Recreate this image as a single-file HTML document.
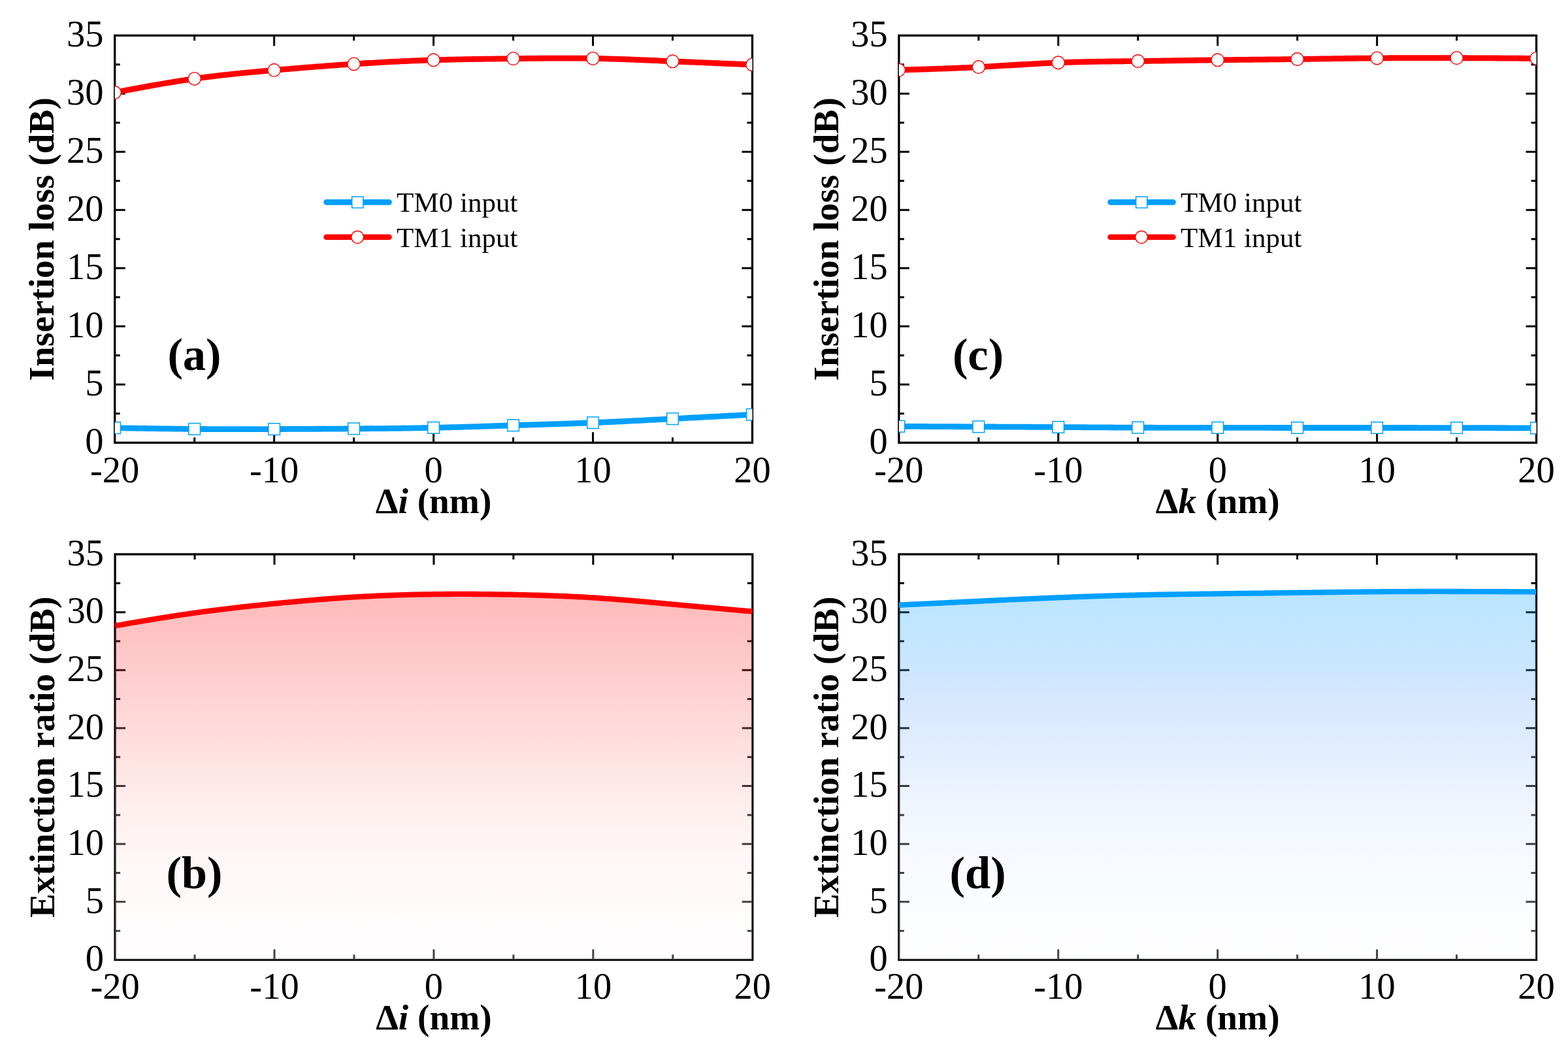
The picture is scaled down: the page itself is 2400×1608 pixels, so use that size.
<!DOCTYPE html>
<html><head><meta charset="utf-8"><title>Figure</title>
<style>html,body{margin:0;padding:0;background:#fff;}svg{display:block;}text{font-family:"Liberation Serif",serif;fill:#000;}.tk{font-size:56.5px;}.tt{font-size:55.3px;font-weight:bold;}.pl{font-size:70.5px;font-weight:bold;}.lg{font-size:43.1px;}</style></head><body>
<svg width="2400" height="1608" viewBox="0 0 2400 1608">
<rect x="0" y="0" width="2400" height="1608" fill="#fff"/>
<defs>
<clipPath id="clipa"><rect x="175.7" y="54.3" width="975.8" height="623"/></clipPath>
<clipPath id="clipc"><rect x="1375.9" y="54.3" width="975.7" height="623"/></clipPath>
<clipPath id="clipb"><rect x="176.1" y="848" width="975.7" height="620.5"/></clipPath>
<linearGradient id="gradb" gradientUnits="userSpaceOnUse" x1="0" y1="908.95" x2="0" y2="1468.5"><stop offset="0" stop-color="rgb(255,0,0)" stop-opacity="0.27"/><stop offset="0.04" stop-color="rgb(255,11,11)" stop-opacity="0.27"/><stop offset="0.21" stop-color="rgb(255,66,66)" stop-opacity="0.27"/><stop offset="0.33" stop-color="rgb(255,110,110)" stop-opacity="0.27"/><stop offset="0.46" stop-color="rgb(255,151,151)" stop-opacity="0.27"/><stop offset="0.59" stop-color="rgb(255,196,196)" stop-opacity="0.27"/><stop offset="0.73" stop-color="rgb(255,225,225)" stop-opacity="0.27"/><stop offset="0.89" stop-color="rgb(255,246,246)" stop-opacity="0.27"/><stop offset="1" stop-color="rgb(255,249,249)" stop-opacity="0.27"/></linearGradient>
<clipPath id="clipd"><rect x="1375.9" y="848" width="975.6" height="620.5"/></clipPath>
<linearGradient id="gradd" gradientUnits="userSpaceOnUse" x1="0" y1="904.97" x2="0" y2="1468.5"><stop offset="0" stop-color="rgb(0,160,255)" stop-opacity="0.27"/><stop offset="0.04" stop-color="rgb(10,160,255)" stop-opacity="0.27"/><stop offset="0.21" stop-color="rgb(66,164,255)" stop-opacity="0.27"/><stop offset="0.34" stop-color="rgb(116,176,255)" stop-opacity="0.27"/><stop offset="0.46" stop-color="rgb(155,196,253)" stop-opacity="0.27"/><stop offset="0.6" stop-color="rgb(205,221,255)" stop-opacity="0.27"/><stop offset="0.73" stop-color="rgb(225,234,255)" stop-opacity="0.27"/><stop offset="0.89" stop-color="rgb(246,248,255)" stop-opacity="0.27"/><stop offset="1" stop-color="rgb(249,250,255)" stop-opacity="0.27"/></linearGradient>
</defs>
<path d="M297.67 677.3V669.3M297.67 54.3V62.3M419.65 677.3V661.3M419.65 54.3V70.3M541.62 677.3V669.3M541.62 54.3V62.3M663.6 677.3V661.3M663.6 54.3V70.3M785.58 677.3V669.3M785.58 54.3V62.3M907.55 677.3V661.3M907.55 54.3V70.3M1029.52 677.3V669.3M1029.52 54.3V62.3M175.7 632.8H183.7M1151.5 632.8H1143.5M175.7 588.3H191.7M1151.5 588.3H1135.5M175.7 543.8H183.7M1151.5 543.8H1143.5M175.7 499.3H191.7M1151.5 499.3H1135.5M175.7 454.8H183.7M1151.5 454.8H1143.5M175.7 410.3H191.7M1151.5 410.3H1135.5M175.7 365.8H183.7M1151.5 365.8H1143.5M175.7 321.3H191.7M1151.5 321.3H1135.5M175.7 276.8H183.7M1151.5 276.8H1143.5M175.7 232.3H191.7M1151.5 232.3H1135.5M175.7 187.8H183.7M1151.5 187.8H1143.5M175.7 143.3H191.7M1151.5 143.3H1135.5M175.7 98.8H183.7M1151.5 98.8H1143.5" stroke="#000" stroke-width="3.0" fill="none"/>
<rect x="175.7" y="54.3" width="975.8" height="623" stroke="#000" stroke-width="3.3" fill="none"/>
<text class="tk" x="158.5" y="694" text-anchor="end">0</text>
<text class="tk" x="158.5" y="605" text-anchor="end">5</text>
<text class="tk" x="158.5" y="516" text-anchor="end">10</text>
<text class="tk" x="158.5" y="427" text-anchor="end">15</text>
<text class="tk" x="158.5" y="338" text-anchor="end">20</text>
<text class="tk" x="158.5" y="249" text-anchor="end">25</text>
<text class="tk" x="158.5" y="160" text-anchor="end">30</text>
<text class="tk" x="158.5" y="71" text-anchor="end">35</text>
<text class="tk" x="175.7" y="737.9" text-anchor="middle">-20</text>
<text class="tk" x="419.65" y="737.9" text-anchor="middle">-10</text>
<text class="tk" x="663.6" y="737.9" text-anchor="middle">0</text>
<text class="tk" x="907.55" y="737.9" text-anchor="middle">10</text>
<text class="tk" x="1151.5" y="737.9" text-anchor="middle">20</text>
<text class="tt" x="82.5" y="365.8" text-anchor="middle" transform="rotate(-90 82.5 365.8)">Insertion loss (dB)</text>
<text class="tt" x="663.6" y="784.6" text-anchor="middle">Δ<tspan font-style="italic">i</tspan> (nm)</text>
<g clip-path="url(#clipa)">
<path d="M175.7 654.7 L179.78 654.77 L183.87 654.84 L187.95 654.91 L192.03 654.98 L196.11 655.04 L200.2 655.11 L204.28 655.18 L208.36 655.25 L212.45 655.31 L216.53 655.38 L220.61 655.44 L224.69 655.51 L228.78 655.57 L232.86 655.63 L236.94 655.69 L241.03 655.75 L245.11 655.81 L249.19 655.86 L253.27 655.92 L257.36 655.97 L261.44 656.02 L265.52 656.07 L269.61 656.12 L273.69 656.17 L277.77 656.21 L281.85 656.26 L285.94 656.3 L290.02 656.33 L294.1 656.37 L298.19 656.4 L302.27 656.44 L306.35 656.46 L310.43 656.49 L314.52 656.51 L318.6 656.54 L322.68 656.56 L326.77 656.57 L330.85 656.59 L334.93 656.6 L339.01 656.61 L343.1 656.62 L347.18 656.63 L351.26 656.64 L355.35 656.64 L359.43 656.65 L363.51 656.65 L367.59 656.65 L371.68 656.65 L375.76 656.65 L379.84 656.64 L383.93 656.64 L388.01 656.63 L392.09 656.62 L396.17 656.62 L400.26 656.61 L404.34 656.6 L408.42 656.58 L412.51 656.57 L416.59 656.56 L420.67 656.55 L424.75 656.53 L428.84 656.52 L432.92 656.5 L437 656.49 L441.08 656.47 L445.17 656.45 L449.25 656.44 L453.33 656.42 L457.42 656.4 L461.5 656.38 L465.58 656.36 L469.66 656.34 L473.75 656.32 L477.83 656.3 L481.91 656.27 L486 656.25 L490.08 656.23 L494.16 656.2 L498.24 656.18 L502.33 656.16 L506.41 656.13 L510.49 656.11 L514.58 656.08 L518.66 656.05 L522.74 656.03 L526.82 656 L530.91 655.97 L534.99 655.95 L539.07 655.92 L543.16 655.89 L547.24 655.86 L551.32 655.83 L555.4 655.8 L559.49 655.77 L563.57 655.74 L567.65 655.71 L571.74 655.67 L575.82 655.64 L579.9 655.6 L583.98 655.57 L588.07 655.53 L592.15 655.49 L596.23 655.44 L600.32 655.4 L604.4 655.35 L608.48 655.31 L612.56 655.26 L616.65 655.2 L620.73 655.15 L624.81 655.09 L628.9 655.03 L632.98 654.97 L637.06 654.9 L641.14 654.83 L645.23 654.76 L649.31 654.69 L653.39 654.61 L657.48 654.53 L661.56 654.44 L665.64 654.36 L669.72 654.26 L673.81 654.17 L677.89 654.07 L681.97 653.97 L686.06 653.86 L690.14 653.75 L694.22 653.64 L698.3 653.53 L702.39 653.41 L706.47 653.3 L710.55 653.18 L714.64 653.06 L718.72 652.93 L722.8 652.81 L726.88 652.68 L730.97 652.55 L735.05 652.42 L739.13 652.29 L743.22 652.16 L747.3 652.03 L751.38 651.9 L755.46 651.77 L759.55 651.64 L763.63 651.51 L767.71 651.37 L771.8 651.24 L775.88 651.11 L779.96 650.98 L784.04 650.85 L788.13 650.72 L792.21 650.59 L796.29 650.46 L800.38 650.34 L804.46 650.21 L808.54 650.08 L812.62 649.96 L816.71 649.83 L820.79 649.7 L824.87 649.58 L828.96 649.45 L833.04 649.32 L837.12 649.19 L841.2 649.06 L845.29 648.93 L849.37 648.8 L853.45 648.67 L857.54 648.53 L861.62 648.4 L865.7 648.26 L869.78 648.12 L873.87 647.97 L877.95 647.83 L882.03 647.68 L886.12 647.53 L890.2 647.38 L894.28 647.23 L898.36 647.07 L902.45 646.91 L906.53 646.74 L910.61 646.57 L914.69 646.4 L918.78 646.23 L922.86 646.05 L926.94 645.87 L931.03 645.69 L935.11 645.5 L939.19 645.31 L943.27 645.12 L947.36 644.92 L951.44 644.73 L955.52 644.53 L959.61 644.33 L963.69 644.13 L967.77 643.92 L971.85 643.72 L975.94 643.51 L980.02 643.3 L984.1 643.09 L988.19 642.88 L992.27 642.67 L996.35 642.45 L1000.43 642.24 L1004.52 642.02 L1008.6 641.81 L1012.68 641.59 L1016.77 641.38 L1020.85 641.16 L1024.93 640.94 L1029.01 640.73 L1033.1 640.51 L1037.18 640.29 L1041.26 640.08 L1045.35 639.86 L1049.43 639.65 L1053.51 639.43 L1057.59 639.22 L1061.68 639 L1065.76 638.79 L1069.84 638.57 L1073.93 638.36 L1078.01 638.14 L1082.09 637.93 L1086.17 637.72 L1090.26 637.5 L1094.34 637.29 L1098.42 637.07 L1102.51 636.86 L1106.59 636.65 L1110.67 636.43 L1114.75 636.22 L1118.84 636.01 L1122.92 635.79 L1127 635.58 L1131.09 635.37 L1135.17 635.15 L1139.25 634.94 L1143.33 634.73 L1147.42 634.51 L1151.5 634.3" fill="none" stroke="#00A0FF" stroke-width="8.8" stroke-linejoin="round"/>
<rect x="166.9" y="645.9" width="17.6" height="17.6" fill="#fff" stroke="#00A0FF" stroke-width="1.5"/>
<rect x="288.87" y="647.6" width="17.6" height="17.6" fill="#fff" stroke="#00A0FF" stroke-width="1.5"/>
<rect x="410.85" y="647.75" width="17.6" height="17.6" fill="#fff" stroke="#00A0FF" stroke-width="1.5"/>
<rect x="532.83" y="647.1" width="17.6" height="17.6" fill="#fff" stroke="#00A0FF" stroke-width="1.5"/>
<rect x="654.8" y="645.6" width="17.6" height="17.6" fill="#fff" stroke="#00A0FF" stroke-width="1.5"/>
<rect x="776.78" y="642" width="17.6" height="17.6" fill="#fff" stroke="#00A0FF" stroke-width="1.5"/>
<rect x="898.75" y="637.9" width="17.6" height="17.6" fill="#fff" stroke="#00A0FF" stroke-width="1.5"/>
<rect x="1020.72" y="631.9" width="17.6" height="17.6" fill="#fff" stroke="#00A0FF" stroke-width="1.5"/>
<rect x="1142.7" y="625.5" width="17.6" height="17.6" fill="#fff" stroke="#00A0FF" stroke-width="1.5"/>
<path d="M175.7 141.5 L179.78 140.73 L183.87 139.96 L187.95 139.19 L192.03 138.42 L196.11 137.65 L200.2 136.89 L204.28 136.13 L208.36 135.37 L212.45 134.61 L216.53 133.86 L220.61 133.11 L224.69 132.37 L228.78 131.63 L232.86 130.9 L236.94 130.18 L241.03 129.46 L245.11 128.75 L249.19 128.04 L253.27 127.34 L257.36 126.66 L261.44 125.98 L265.52 125.31 L269.61 124.65 L273.69 124 L277.77 123.36 L281.85 122.73 L285.94 122.11 L290.02 121.5 L294.1 120.91 L298.19 120.33 L302.27 119.76 L306.35 119.2 L310.43 118.66 L314.52 118.13 L318.6 117.61 L322.68 117.1 L326.77 116.6 L330.85 116.12 L334.93 115.64 L339.01 115.17 L343.1 114.71 L347.18 114.26 L351.26 113.82 L355.35 113.39 L359.43 112.96 L363.51 112.55 L367.59 112.14 L371.68 111.73 L375.76 111.33 L379.84 110.94 L383.93 110.56 L388.01 110.17 L392.09 109.8 L396.17 109.43 L400.26 109.06 L404.34 108.69 L408.42 108.33 L412.51 107.97 L416.59 107.62 L420.67 107.26 L424.75 106.91 L428.84 106.56 L432.92 106.21 L437 105.86 L441.08 105.52 L445.17 105.18 L449.25 104.84 L453.33 104.5 L457.42 104.17 L461.5 103.83 L465.58 103.5 L469.66 103.18 L473.75 102.85 L477.83 102.53 L481.91 102.21 L486 101.89 L490.08 101.58 L494.16 101.27 L498.24 100.96 L502.33 100.66 L506.41 100.36 L510.49 100.06 L514.58 99.76 L518.66 99.47 L522.74 99.18 L526.82 98.9 L530.91 98.62 L534.99 98.34 L539.07 98.07 L543.16 97.8 L547.24 97.53 L551.32 97.27 L555.4 97.01 L559.49 96.76 L563.57 96.51 L567.65 96.27 L571.74 96.02 L575.82 95.79 L579.9 95.55 L583.98 95.33 L588.07 95.1 L592.15 94.88 L596.23 94.67 L600.32 94.46 L604.4 94.25 L608.48 94.05 L612.56 93.86 L616.65 93.67 L620.73 93.48 L624.81 93.3 L628.9 93.13 L632.98 92.96 L637.06 92.79 L641.14 92.63 L645.23 92.48 L649.31 92.33 L653.39 92.18 L657.48 92.05 L661.56 91.91 L665.64 91.79 L669.72 91.67 L673.81 91.55 L677.89 91.44 L681.97 91.33 L686.06 91.23 L690.14 91.14 L694.22 91.04 L698.3 90.96 L702.39 90.87 L706.47 90.79 L710.55 90.72 L714.64 90.64 L718.72 90.57 L722.8 90.51 L726.88 90.44 L730.97 90.38 L735.05 90.32 L739.13 90.26 L743.22 90.21 L747.3 90.16 L751.38 90.1 L755.46 90.05 L759.55 90 L763.63 89.95 L767.71 89.91 L771.8 89.86 L775.88 89.81 L779.96 89.76 L784.04 89.72 L788.13 89.67 L792.21 89.62 L796.29 89.58 L800.38 89.53 L804.46 89.48 L808.54 89.44 L812.62 89.39 L816.71 89.35 L820.79 89.31 L824.87 89.27 L828.96 89.23 L833.04 89.2 L837.12 89.17 L841.2 89.14 L845.29 89.12 L849.37 89.1 L853.45 89.08 L857.54 89.07 L861.62 89.07 L865.7 89.06 L869.78 89.07 L873.87 89.08 L877.95 89.09 L882.03 89.11 L886.12 89.14 L890.2 89.17 L894.28 89.21 L898.36 89.26 L902.45 89.32 L906.53 89.38 L910.61 89.45 L914.69 89.53 L918.78 89.62 L922.86 89.72 L926.94 89.82 L931.03 89.93 L935.11 90.04 L939.19 90.16 L943.27 90.29 L947.36 90.42 L951.44 90.56 L955.52 90.71 L959.61 90.85 L963.69 91.01 L967.77 91.16 L971.85 91.32 L975.94 91.48 L980.02 91.65 L984.1 91.82 L988.19 91.99 L992.27 92.16 L996.35 92.34 L1000.43 92.52 L1004.52 92.7 L1008.6 92.88 L1012.68 93.06 L1016.77 93.24 L1020.85 93.42 L1024.93 93.6 L1029.01 93.78 L1033.1 93.96 L1037.18 94.13 L1041.26 94.31 L1045.35 94.49 L1049.43 94.66 L1053.51 94.84 L1057.59 95.01 L1061.68 95.19 L1065.76 95.36 L1069.84 95.53 L1073.93 95.71 L1078.01 95.88 L1082.09 96.05 L1086.17 96.22 L1090.26 96.39 L1094.34 96.56 L1098.42 96.73 L1102.51 96.9 L1106.59 97.06 L1110.67 97.23 L1114.75 97.4 L1118.84 97.57 L1122.92 97.73 L1127 97.9 L1131.09 98.07 L1135.17 98.23 L1139.25 98.4 L1143.33 98.57 L1147.42 98.73 L1151.5 98.9" fill="none" stroke="#FF0000" stroke-width="8.8" stroke-linejoin="round"/>
<ellipse cx="175.7" cy="141.5" rx="9.6" ry="9.8" fill="#fff" stroke="#FF0000" stroke-width="1.35"/>
<ellipse cx="297.67" cy="120.4" rx="9.6" ry="9.8" fill="#fff" stroke="#FF0000" stroke-width="1.35"/>
<ellipse cx="419.65" cy="107.35" rx="9.6" ry="9.8" fill="#fff" stroke="#FF0000" stroke-width="1.35"/>
<ellipse cx="541.62" cy="97.9" rx="9.6" ry="9.8" fill="#fff" stroke="#FF0000" stroke-width="1.35"/>
<ellipse cx="663.6" cy="91.85" rx="9.6" ry="9.8" fill="#fff" stroke="#FF0000" stroke-width="1.35"/>
<ellipse cx="785.58" cy="89.7" rx="9.6" ry="9.8" fill="#fff" stroke="#FF0000" stroke-width="1.35"/>
<ellipse cx="907.55" cy="89.4" rx="9.6" ry="9.8" fill="#fff" stroke="#FF0000" stroke-width="1.35"/>
<ellipse cx="1029.52" cy="93.8" rx="9.6" ry="9.8" fill="#fff" stroke="#FF0000" stroke-width="1.35"/>
<ellipse cx="1151.5" cy="98.9" rx="9.6" ry="9.8" fill="#fff" stroke="#FF0000" stroke-width="1.35"/>
</g>
<path d="M499.6 309.4H595.6" stroke="#00A0FF" stroke-width="8.6" stroke-linecap="round"/>
<rect x="538.7" y="300.9" width="17.2" height="17.2" fill="#fff" stroke="#00A0FF" stroke-width="1.5"/>
<text class="lg" x="607" y="324.4">TM0 input</text>
<path d="M499.6 362.8H595.6" stroke="#FF0000" stroke-width="8.6" stroke-linecap="round"/>
<ellipse cx="547.2" cy="362.8" rx="9.5" ry="9.6" fill="#fff" stroke="#FF0000" stroke-width="1.5"/>
<text class="lg" x="607" y="377.7">TM1 input</text>
<text class="pl" x="256.4" y="565.5">(a)</text>
<path d="M1497.86 677.3V669.3M1497.86 54.3V62.3M1619.83 677.3V661.3M1619.83 54.3V70.3M1741.79 677.3V669.3M1741.79 54.3V62.3M1863.75 677.3V661.3M1863.75 54.3V70.3M1985.71 677.3V669.3M1985.71 54.3V62.3M2107.68 677.3V661.3M2107.68 54.3V70.3M2229.64 677.3V669.3M2229.64 54.3V62.3M1375.9 632.8H1383.9M2351.6 632.8H2343.6M1375.9 588.3H1391.9M2351.6 588.3H2335.6M1375.9 543.8H1383.9M2351.6 543.8H2343.6M1375.9 499.3H1391.9M2351.6 499.3H2335.6M1375.9 454.8H1383.9M2351.6 454.8H2343.6M1375.9 410.3H1391.9M2351.6 410.3H2335.6M1375.9 365.8H1383.9M2351.6 365.8H2343.6M1375.9 321.3H1391.9M2351.6 321.3H2335.6M1375.9 276.8H1383.9M2351.6 276.8H2343.6M1375.9 232.3H1391.9M2351.6 232.3H2335.6M1375.9 187.8H1383.9M2351.6 187.8H2343.6M1375.9 143.3H1391.9M2351.6 143.3H2335.6M1375.9 98.8H1383.9M2351.6 98.8H2343.6" stroke="#000" stroke-width="3.0" fill="none"/>
<rect x="1375.9" y="54.3" width="975.7" height="623" stroke="#000" stroke-width="3.3" fill="none"/>
<text class="tk" x="1358.7" y="694" text-anchor="end">0</text>
<text class="tk" x="1358.7" y="605" text-anchor="end">5</text>
<text class="tk" x="1358.7" y="516" text-anchor="end">10</text>
<text class="tk" x="1358.7" y="427" text-anchor="end">15</text>
<text class="tk" x="1358.7" y="338" text-anchor="end">20</text>
<text class="tk" x="1358.7" y="249" text-anchor="end">25</text>
<text class="tk" x="1358.7" y="160" text-anchor="end">30</text>
<text class="tk" x="1358.7" y="71" text-anchor="end">35</text>
<text class="tk" x="1375.9" y="737.9" text-anchor="middle">-20</text>
<text class="tk" x="1619.83" y="737.9" text-anchor="middle">-10</text>
<text class="tk" x="1863.75" y="737.9" text-anchor="middle">0</text>
<text class="tk" x="2107.68" y="737.9" text-anchor="middle">10</text>
<text class="tk" x="2351.6" y="737.9" text-anchor="middle">20</text>
<text class="tt" x="1282.7" y="365.8" text-anchor="middle" transform="rotate(-90 1282.7 365.8)">Insertion loss (dB)</text>
<text class="tt" x="1863.75" y="784.6" text-anchor="middle">Δ<tspan font-style="italic">k</tspan> (nm)</text>
<g clip-path="url(#clipc)">
<path d="M1375.9 652.3 L1379.98 652.32 L1384.06 652.34 L1388.15 652.36 L1392.23 652.38 L1396.31 652.4 L1400.39 652.42 L1404.48 652.44 L1408.56 652.46 L1412.64 652.49 L1416.72 652.51 L1420.81 652.53 L1424.89 652.55 L1428.97 652.57 L1433.05 652.59 L1437.14 652.61 L1441.22 652.63 L1445.3 652.65 L1449.38 652.67 L1453.47 652.69 L1457.55 652.71 L1461.63 652.73 L1465.71 652.75 L1469.8 652.77 L1473.88 652.79 L1477.96 652.81 L1482.04 652.83 L1486.13 652.84 L1490.21 652.86 L1494.29 652.88 L1498.37 652.9 L1502.46 652.92 L1506.54 652.94 L1510.62 652.96 L1514.7 652.98 L1518.78 653 L1522.87 653.01 L1526.95 653.03 L1531.03 653.05 L1535.11 653.07 L1539.2 653.09 L1543.28 653.11 L1547.36 653.13 L1551.44 653.15 L1555.53 653.17 L1559.61 653.19 L1563.69 653.2 L1567.77 653.22 L1571.86 653.24 L1575.94 653.26 L1580.02 653.28 L1584.1 653.31 L1588.19 653.33 L1592.27 653.35 L1596.35 653.37 L1600.43 653.39 L1604.52 653.41 L1608.6 653.44 L1612.68 653.46 L1616.76 653.48 L1620.85 653.51 L1624.93 653.53 L1629.01 653.55 L1633.09 653.58 L1637.18 653.61 L1641.26 653.63 L1645.34 653.66 L1649.42 653.68 L1653.51 653.71 L1657.59 653.73 L1661.67 653.76 L1665.75 653.79 L1669.83 653.81 L1673.92 653.84 L1678 653.86 L1682.08 653.89 L1686.16 653.91 L1690.25 653.94 L1694.33 653.96 L1698.41 653.99 L1702.49 654.01 L1706.58 654.03 L1710.66 654.05 L1714.74 654.08 L1718.82 654.1 L1722.91 654.12 L1726.99 654.14 L1731.07 654.16 L1735.15 654.17 L1739.24 654.19 L1743.32 654.21 L1747.4 654.22 L1751.48 654.23 L1755.57 654.25 L1759.65 654.26 L1763.73 654.27 L1767.81 654.28 L1771.9 654.29 L1775.98 654.3 L1780.06 654.31 L1784.14 654.32 L1788.23 654.33 L1792.31 654.33 L1796.39 654.34 L1800.47 654.34 L1804.55 654.35 L1808.64 654.35 L1812.72 654.36 L1816.8 654.36 L1820.88 654.37 L1824.97 654.37 L1829.05 654.37 L1833.13 654.38 L1837.21 654.38 L1841.3 654.38 L1845.38 654.39 L1849.46 654.39 L1853.54 654.39 L1857.63 654.4 L1861.71 654.4 L1865.79 654.4 L1869.87 654.4 L1873.96 654.41 L1878.04 654.41 L1882.12 654.42 L1886.2 654.42 L1890.29 654.42 L1894.37 654.43 L1898.45 654.43 L1902.53 654.43 L1906.62 654.44 L1910.7 654.44 L1914.78 654.45 L1918.86 654.45 L1922.95 654.45 L1927.03 654.46 L1931.11 654.46 L1935.19 654.47 L1939.27 654.47 L1943.36 654.47 L1947.44 654.48 L1951.52 654.48 L1955.6 654.48 L1959.69 654.49 L1963.77 654.49 L1967.85 654.49 L1971.93 654.49 L1976.02 654.5 L1980.1 654.5 L1984.18 654.5 L1988.26 654.5 L1992.35 654.5 L1996.43 654.5 L2000.51 654.5 L2004.59 654.51 L2008.68 654.51 L2012.76 654.51 L2016.84 654.51 L2020.92 654.51 L2025.01 654.51 L2029.09 654.51 L2033.17 654.51 L2037.25 654.51 L2041.34 654.51 L2045.42 654.51 L2049.5 654.5 L2053.58 654.5 L2057.67 654.5 L2061.75 654.5 L2065.83 654.5 L2069.91 654.5 L2073.99 654.5 L2078.08 654.5 L2082.16 654.5 L2086.24 654.5 L2090.32 654.5 L2094.41 654.5 L2098.49 654.5 L2102.57 654.5 L2106.65 654.5 L2110.74 654.5 L2114.82 654.5 L2118.9 654.5 L2122.98 654.5 L2127.07 654.5 L2131.15 654.5 L2135.23 654.51 L2139.31 654.51 L2143.4 654.51 L2147.48 654.51 L2151.56 654.51 L2155.64 654.52 L2159.73 654.52 L2163.81 654.52 L2167.89 654.52 L2171.97 654.53 L2176.06 654.53 L2180.14 654.53 L2184.22 654.54 L2188.3 654.54 L2192.39 654.55 L2196.47 654.55 L2200.55 654.56 L2204.63 654.56 L2208.72 654.57 L2212.8 654.57 L2216.88 654.58 L2220.96 654.59 L2225.04 654.59 L2229.13 654.6 L2233.21 654.61 L2237.29 654.61 L2241.37 654.62 L2245.46 654.63 L2249.54 654.64 L2253.62 654.65 L2257.7 654.66 L2261.79 654.66 L2265.87 654.67 L2269.95 654.68 L2274.03 654.69 L2278.12 654.7 L2282.2 654.71 L2286.28 654.72 L2290.36 654.73 L2294.45 654.74 L2298.53 654.75 L2302.61 654.76 L2306.69 654.78 L2310.78 654.79 L2314.86 654.8 L2318.94 654.81 L2323.02 654.82 L2327.11 654.83 L2331.19 654.84 L2335.27 654.85 L2339.35 654.87 L2343.44 654.88 L2347.52 654.89 L2351.6 654.9" fill="none" stroke="#00A0FF" stroke-width="8.8" stroke-linejoin="round"/>
<rect x="1367.1" y="643.5" width="17.6" height="17.6" fill="#fff" stroke="#00A0FF" stroke-width="1.5"/>
<rect x="1489.06" y="644.1" width="17.6" height="17.6" fill="#fff" stroke="#00A0FF" stroke-width="1.5"/>
<rect x="1611.03" y="644.7" width="17.6" height="17.6" fill="#fff" stroke="#00A0FF" stroke-width="1.5"/>
<rect x="1732.99" y="645.4" width="17.6" height="17.6" fill="#fff" stroke="#00A0FF" stroke-width="1.5"/>
<rect x="1854.95" y="645.6" width="17.6" height="17.6" fill="#fff" stroke="#00A0FF" stroke-width="1.5"/>
<rect x="1976.91" y="645.7" width="17.6" height="17.6" fill="#fff" stroke="#00A0FF" stroke-width="1.5"/>
<rect x="2098.88" y="645.7" width="17.6" height="17.6" fill="#fff" stroke="#00A0FF" stroke-width="1.5"/>
<rect x="2220.84" y="645.8" width="17.6" height="17.6" fill="#fff" stroke="#00A0FF" stroke-width="1.5"/>
<rect x="2342.8" y="646.1" width="17.6" height="17.6" fill="#fff" stroke="#00A0FF" stroke-width="1.5"/>
<path d="M1375.9 107.1 L1379.98 106.98 L1384.06 106.86 L1388.15 106.74 L1392.23 106.62 L1396.31 106.49 L1400.39 106.37 L1404.48 106.25 L1408.56 106.12 L1412.64 105.99 L1416.72 105.86 L1420.81 105.73 L1424.89 105.6 L1428.97 105.46 L1433.05 105.32 L1437.14 105.18 L1441.22 105.04 L1445.3 104.89 L1449.38 104.74 L1453.47 104.58 L1457.55 104.42 L1461.63 104.26 L1465.71 104.09 L1469.8 103.92 L1473.88 103.74 L1477.96 103.56 L1482.04 103.38 L1486.13 103.18 L1490.21 102.99 L1494.29 102.78 L1498.37 102.57 L1502.46 102.36 L1506.54 102.14 L1510.62 101.91 L1514.7 101.68 L1518.78 101.45 L1522.87 101.21 L1526.95 100.97 L1531.03 100.73 L1535.11 100.48 L1539.2 100.23 L1543.28 99.99 L1547.36 99.74 L1551.44 99.49 L1555.53 99.25 L1559.61 99 L1563.69 98.76 L1567.77 98.51 L1571.86 98.28 L1575.94 98.04 L1580.02 97.81 L1584.1 97.58 L1588.19 97.36 L1592.27 97.14 L1596.35 96.93 L1600.43 96.72 L1604.52 96.52 L1608.6 96.33 L1612.68 96.15 L1616.76 95.98 L1620.85 95.81 L1624.93 95.65 L1629.01 95.5 L1633.09 95.37 L1637.18 95.23 L1641.26 95.11 L1645.34 95 L1649.42 94.89 L1653.51 94.78 L1657.59 94.69 L1661.67 94.6 L1665.75 94.51 L1669.83 94.43 L1673.92 94.36 L1678 94.29 L1682.08 94.22 L1686.16 94.16 L1690.25 94.1 L1694.33 94.05 L1698.41 93.99 L1702.49 93.94 L1706.58 93.9 L1710.66 93.85 L1714.74 93.8 L1718.82 93.76 L1722.91 93.71 L1726.99 93.67 L1731.07 93.62 L1735.15 93.58 L1739.24 93.53 L1743.32 93.48 L1747.4 93.43 L1751.48 93.38 L1755.57 93.33 L1759.65 93.28 L1763.73 93.22 L1767.81 93.16 L1771.9 93.11 L1775.98 93.05 L1780.06 92.99 L1784.14 92.93 L1788.23 92.87 L1792.31 92.81 L1796.39 92.75 L1800.47 92.69 L1804.55 92.63 L1808.64 92.57 L1812.72 92.51 L1816.8 92.45 L1820.88 92.39 L1824.97 92.33 L1829.05 92.27 L1833.13 92.21 L1837.21 92.15 L1841.3 92.1 L1845.38 92.04 L1849.46 91.98 L1853.54 91.93 L1857.63 91.88 L1861.71 91.83 L1865.79 91.77 L1869.87 91.73 L1873.96 91.68 L1878.04 91.63 L1882.12 91.59 L1886.2 91.54 L1890.29 91.5 L1894.37 91.46 L1898.45 91.41 L1902.53 91.37 L1906.62 91.33 L1910.7 91.29 L1914.78 91.25 L1918.86 91.21 L1922.95 91.17 L1927.03 91.13 L1931.11 91.09 L1935.19 91.05 L1939.27 91.01 L1943.36 90.97 L1947.44 90.93 L1951.52 90.89 L1955.6 90.84 L1959.69 90.8 L1963.77 90.76 L1967.85 90.71 L1971.93 90.66 L1976.02 90.62 L1980.1 90.57 L1984.18 90.52 L1988.26 90.47 L1992.35 90.41 L1996.43 90.36 L2000.51 90.31 L2004.59 90.25 L2008.68 90.19 L2012.76 90.13 L2016.84 90.08 L2020.92 90.02 L2025.01 89.96 L2029.09 89.9 L2033.17 89.84 L2037.25 89.78 L2041.34 89.72 L2045.42 89.66 L2049.5 89.6 L2053.58 89.55 L2057.67 89.49 L2061.75 89.43 L2065.83 89.38 L2069.91 89.32 L2073.99 89.27 L2078.08 89.22 L2082.16 89.17 L2086.24 89.12 L2090.32 89.07 L2094.41 89.03 L2098.49 88.99 L2102.57 88.95 L2106.65 88.91 L2110.74 88.87 L2114.82 88.84 L2118.9 88.81 L2122.98 88.78 L2127.07 88.76 L2131.15 88.73 L2135.23 88.71 L2139.31 88.69 L2143.4 88.67 L2147.48 88.66 L2151.56 88.65 L2155.64 88.63 L2159.73 88.63 L2163.81 88.62 L2167.89 88.61 L2171.97 88.61 L2176.06 88.61 L2180.14 88.6 L2184.22 88.6 L2188.3 88.61 L2192.39 88.61 L2196.47 88.62 L2200.55 88.62 L2204.63 88.63 L2208.72 88.64 L2212.8 88.65 L2216.88 88.66 L2220.96 88.67 L2225.04 88.68 L2229.13 88.7 L2233.21 88.71 L2237.29 88.73 L2241.37 88.75 L2245.46 88.76 L2249.54 88.78 L2253.62 88.8 L2257.7 88.82 L2261.79 88.84 L2265.87 88.86 L2269.95 88.88 L2274.03 88.9 L2278.12 88.93 L2282.2 88.95 L2286.28 88.97 L2290.36 89 L2294.45 89.02 L2298.53 89.05 L2302.61 89.07 L2306.69 89.1 L2310.78 89.13 L2314.86 89.15 L2318.94 89.18 L2323.02 89.21 L2327.11 89.23 L2331.19 89.26 L2335.27 89.29 L2339.35 89.32 L2343.44 89.34 L2347.52 89.37 L2351.6 89.4" fill="none" stroke="#FF0000" stroke-width="8.8" stroke-linejoin="round"/>
<ellipse cx="1375.9" cy="107.1" rx="9.6" ry="9.8" fill="#fff" stroke="#FF0000" stroke-width="1.35"/>
<ellipse cx="1497.86" cy="102.6" rx="9.6" ry="9.8" fill="#fff" stroke="#FF0000" stroke-width="1.35"/>
<ellipse cx="1619.83" cy="95.85" rx="9.6" ry="9.8" fill="#fff" stroke="#FF0000" stroke-width="1.35"/>
<ellipse cx="1741.79" cy="93.5" rx="9.6" ry="9.8" fill="#fff" stroke="#FF0000" stroke-width="1.35"/>
<ellipse cx="1863.75" cy="91.8" rx="9.6" ry="9.8" fill="#fff" stroke="#FF0000" stroke-width="1.35"/>
<ellipse cx="1985.71" cy="90.5" rx="9.6" ry="9.8" fill="#fff" stroke="#FF0000" stroke-width="1.35"/>
<ellipse cx="2107.68" cy="88.9" rx="9.6" ry="9.8" fill="#fff" stroke="#FF0000" stroke-width="1.35"/>
<ellipse cx="2229.64" cy="88.7" rx="9.6" ry="9.8" fill="#fff" stroke="#FF0000" stroke-width="1.35"/>
<ellipse cx="2351.6" cy="89.4" rx="9.6" ry="9.8" fill="#fff" stroke="#FF0000" stroke-width="1.35"/>
</g>
<path d="M1699.6 309.4H1795.6" stroke="#00A0FF" stroke-width="8.6" stroke-linecap="round"/>
<rect x="1738.7" y="300.9" width="17.2" height="17.2" fill="#fff" stroke="#00A0FF" stroke-width="1.5"/>
<text class="lg" x="1807" y="324.4">TM0 input</text>
<path d="M1699.6 362.8H1795.6" stroke="#FF0000" stroke-width="8.6" stroke-linecap="round"/>
<ellipse cx="1747.2" cy="362.8" rx="9.5" ry="9.6" fill="#fff" stroke="#FF0000" stroke-width="1.5"/>
<text class="lg" x="1807" y="377.7">TM1 input</text>
<text class="pl" x="1457.9" y="566">(c)</text>
<path d="M298.06 1468.5V1460.5M298.06 848V856M420.02 1468.5V1452.5M420.02 848V864M541.99 1468.5V1460.5M541.99 848V856M663.95 1468.5V1452.5M663.95 848V864M785.91 1468.5V1460.5M785.91 848V856M907.88 1468.5V1452.5M907.88 848V864M1029.84 1468.5V1460.5M1029.84 848V856M176.1 1424.18H184.1M1151.8 1424.18H1143.8M176.1 1379.86H192.1M1151.8 1379.86H1135.8M176.1 1335.54H184.1M1151.8 1335.54H1143.8M176.1 1291.21H192.1M1151.8 1291.21H1135.8M176.1 1246.89H184.1M1151.8 1246.89H1143.8M176.1 1202.57H192.1M1151.8 1202.57H1135.8M176.1 1158.25H184.1M1151.8 1158.25H1143.8M176.1 1113.93H192.1M1151.8 1113.93H1135.8M176.1 1069.61H184.1M1151.8 1069.61H1143.8M176.1 1025.29H192.1M1151.8 1025.29H1135.8M176.1 980.96H184.1M1151.8 980.96H1143.8M176.1 936.64H192.1M1151.8 936.64H1135.8M176.1 892.32H184.1M1151.8 892.32H1143.8" stroke="#000" stroke-width="3.0" fill="none"/>
<rect x="176.1" y="848" width="975.7" height="620.5" stroke="#000" stroke-width="3.3" fill="none"/>
<text class="tk" x="158.9" y="1485.2" text-anchor="end">0</text>
<text class="tk" x="158.9" y="1396.56" text-anchor="end">5</text>
<text class="tk" x="158.9" y="1307.91" text-anchor="end">10</text>
<text class="tk" x="158.9" y="1219.27" text-anchor="end">15</text>
<text class="tk" x="158.9" y="1130.63" text-anchor="end">20</text>
<text class="tk" x="158.9" y="1041.99" text-anchor="end">25</text>
<text class="tk" x="158.9" y="953.34" text-anchor="end">30</text>
<text class="tk" x="158.9" y="864.7" text-anchor="end">35</text>
<text class="tk" x="176.1" y="1527.9" text-anchor="middle">-20</text>
<text class="tk" x="420.02" y="1527.9" text-anchor="middle">-10</text>
<text class="tk" x="663.95" y="1527.9" text-anchor="middle">0</text>
<text class="tk" x="907.88" y="1527.9" text-anchor="middle">10</text>
<text class="tk" x="1151.8" y="1527.9" text-anchor="middle">20</text>
<text class="tt" x="82.9" y="1158.25" text-anchor="middle" transform="rotate(-90 82.9 1158.25)">Extinction ratio (dB)</text>
<text class="tt" x="663.95" y="1574.6" text-anchor="middle">Δ<tspan font-style="italic">i</tspan> (nm)</text>
<g clip-path="url(#clipb)">
<path d="M176.1 957.4 L180.18 956.7 L184.26 956 L188.35 955.3 L192.43 954.6 L196.51 953.9 L200.59 953.2 L204.68 952.51 L208.76 951.81 L212.84 951.12 L216.92 950.43 L221.01 949.75 L225.09 949.06 L229.17 948.38 L233.25 947.71 L237.34 947.04 L241.42 946.37 L245.5 945.71 L249.58 945.05 L253.67 944.39 L257.75 943.75 L261.83 943.1 L265.91 942.47 L270 941.84 L274.08 941.21 L278.16 940.6 L282.24 939.99 L286.33 939.39 L290.41 938.79 L294.49 938.21 L298.57 937.63 L302.66 937.06 L306.74 936.5 L310.82 935.94 L314.9 935.4 L318.98 934.86 L323.07 934.33 L327.15 933.81 L331.23 933.29 L335.31 932.78 L339.4 932.28 L343.48 931.79 L347.56 931.3 L351.64 930.81 L355.73 930.34 L359.81 929.87 L363.89 929.4 L367.97 928.94 L372.06 928.49 L376.14 928.04 L380.22 927.6 L384.3 927.16 L388.39 926.73 L392.47 926.3 L396.55 925.87 L400.63 925.45 L404.72 925.03 L408.8 924.62 L412.88 924.21 L416.96 923.8 L421.05 923.4 L425.13 923 L429.21 922.6 L433.29 922.21 L437.38 921.82 L441.46 921.43 L445.54 921.05 L449.62 920.67 L453.71 920.3 L457.79 919.93 L461.87 919.56 L465.95 919.2 L470.03 918.85 L474.12 918.49 L478.2 918.15 L482.28 917.81 L486.36 917.47 L490.45 917.14 L494.53 916.82 L498.61 916.5 L502.69 916.18 L506.78 915.88 L510.86 915.58 L514.94 915.28 L519.02 914.99 L523.11 914.71 L527.19 914.44 L531.27 914.17 L535.35 913.91 L539.44 913.65 L543.52 913.41 L547.6 913.17 L551.68 912.94 L555.77 912.71 L559.85 912.5 L563.93 912.29 L568.01 912.08 L572.1 911.89 L576.18 911.7 L580.26 911.52 L584.34 911.34 L588.43 911.17 L592.51 911.01 L596.59 910.86 L600.67 910.71 L604.75 910.57 L608.84 910.43 L612.92 910.3 L617 910.18 L621.08 910.06 L625.17 909.95 L629.25 909.85 L633.33 909.75 L637.41 909.66 L641.5 909.57 L645.58 909.49 L649.66 909.42 L653.74 909.35 L657.83 909.28 L661.91 909.23 L665.99 909.17 L670.07 909.13 L674.16 909.09 L678.24 909.05 L682.32 909.02 L686.4 909 L690.49 908.98 L694.57 908.96 L698.65 908.95 L702.73 908.95 L706.82 908.95 L710.9 908.95 L714.98 908.96 L719.06 908.97 L723.15 908.99 L727.23 909.01 L731.31 909.04 L735.39 909.07 L739.47 909.11 L743.56 909.15 L747.64 909.19 L751.72 909.24 L755.8 909.3 L759.89 909.35 L763.97 909.41 L768.05 909.48 L772.13 909.54 L776.22 909.62 L780.3 909.69 L784.38 909.77 L788.46 909.85 L792.55 909.94 L796.63 910.03 L800.71 910.12 L804.79 910.22 L808.88 910.32 L812.96 910.42 L817.04 910.53 L821.12 910.65 L825.21 910.77 L829.29 910.89 L833.37 911.02 L837.45 911.16 L841.54 911.3 L845.62 911.45 L849.7 911.6 L853.78 911.76 L857.87 911.92 L861.95 912.09 L866.03 912.27 L870.11 912.45 L874.19 912.64 L878.28 912.84 L882.36 913.05 L886.44 913.26 L890.52 913.48 L894.61 913.71 L898.69 913.94 L902.77 914.18 L906.85 914.44 L910.94 914.7 L915.02 914.96 L919.1 915.24 L923.18 915.52 L927.27 915.81 L931.35 916.11 L935.43 916.41 L939.51 916.72 L943.6 917.04 L947.68 917.36 L951.76 917.69 L955.84 918.02 L959.93 918.36 L964.01 918.7 L968.09 919.05 L972.17 919.4 L976.26 919.75 L980.34 920.11 L984.42 920.47 L988.5 920.84 L992.59 921.2 L996.67 921.57 L1000.75 921.94 L1004.83 922.31 L1008.92 922.68 L1013 923.06 L1017.08 923.43 L1021.16 923.8 L1025.24 924.18 L1029.33 924.55 L1033.41 924.93 L1037.49 925.3 L1041.57 925.67 L1045.66 926.04 L1049.74 926.42 L1053.82 926.79 L1057.9 927.16 L1061.99 927.53 L1066.07 927.9 L1070.15 928.27 L1074.23 928.64 L1078.32 929.01 L1082.4 929.37 L1086.48 929.74 L1090.56 930.11 L1094.65 930.48 L1098.73 930.84 L1102.81 931.21 L1106.89 931.58 L1110.98 931.94 L1115.06 932.31 L1119.14 932.68 L1123.22 933.04 L1127.31 933.41 L1131.39 933.77 L1135.47 934.14 L1139.55 934.5 L1143.64 934.87 L1147.72 935.23 L1151.8 935.6 L1151.8 1468.5 L176.1 1468.5 Z" fill="url(#gradb)" stroke="none"/>
<path d="M176.1 957.4 L180.18 956.7 L184.26 956 L188.35 955.3 L192.43 954.6 L196.51 953.9 L200.59 953.2 L204.68 952.51 L208.76 951.81 L212.84 951.12 L216.92 950.43 L221.01 949.75 L225.09 949.06 L229.17 948.38 L233.25 947.71 L237.34 947.04 L241.42 946.37 L245.5 945.71 L249.58 945.05 L253.67 944.39 L257.75 943.75 L261.83 943.1 L265.91 942.47 L270 941.84 L274.08 941.21 L278.16 940.6 L282.24 939.99 L286.33 939.39 L290.41 938.79 L294.49 938.21 L298.57 937.63 L302.66 937.06 L306.74 936.5 L310.82 935.94 L314.9 935.4 L318.98 934.86 L323.07 934.33 L327.15 933.81 L331.23 933.29 L335.31 932.78 L339.4 932.28 L343.48 931.79 L347.56 931.3 L351.64 930.81 L355.73 930.34 L359.81 929.87 L363.89 929.4 L367.97 928.94 L372.06 928.49 L376.14 928.04 L380.22 927.6 L384.3 927.16 L388.39 926.73 L392.47 926.3 L396.55 925.87 L400.63 925.45 L404.72 925.03 L408.8 924.62 L412.88 924.21 L416.96 923.8 L421.05 923.4 L425.13 923 L429.21 922.6 L433.29 922.21 L437.38 921.82 L441.46 921.43 L445.54 921.05 L449.62 920.67 L453.71 920.3 L457.79 919.93 L461.87 919.56 L465.95 919.2 L470.03 918.85 L474.12 918.49 L478.2 918.15 L482.28 917.81 L486.36 917.47 L490.45 917.14 L494.53 916.82 L498.61 916.5 L502.69 916.18 L506.78 915.88 L510.86 915.58 L514.94 915.28 L519.02 914.99 L523.11 914.71 L527.19 914.44 L531.27 914.17 L535.35 913.91 L539.44 913.65 L543.52 913.41 L547.6 913.17 L551.68 912.94 L555.77 912.71 L559.85 912.5 L563.93 912.29 L568.01 912.08 L572.1 911.89 L576.18 911.7 L580.26 911.52 L584.34 911.34 L588.43 911.17 L592.51 911.01 L596.59 910.86 L600.67 910.71 L604.75 910.57 L608.84 910.43 L612.92 910.3 L617 910.18 L621.08 910.06 L625.17 909.95 L629.25 909.85 L633.33 909.75 L637.41 909.66 L641.5 909.57 L645.58 909.49 L649.66 909.42 L653.74 909.35 L657.83 909.28 L661.91 909.23 L665.99 909.17 L670.07 909.13 L674.16 909.09 L678.24 909.05 L682.32 909.02 L686.4 909 L690.49 908.98 L694.57 908.96 L698.65 908.95 L702.73 908.95 L706.82 908.95 L710.9 908.95 L714.98 908.96 L719.06 908.97 L723.15 908.99 L727.23 909.01 L731.31 909.04 L735.39 909.07 L739.47 909.11 L743.56 909.15 L747.64 909.19 L751.72 909.24 L755.8 909.3 L759.89 909.35 L763.97 909.41 L768.05 909.48 L772.13 909.54 L776.22 909.62 L780.3 909.69 L784.38 909.77 L788.46 909.85 L792.55 909.94 L796.63 910.03 L800.71 910.12 L804.79 910.22 L808.88 910.32 L812.96 910.42 L817.04 910.53 L821.12 910.65 L825.21 910.77 L829.29 910.89 L833.37 911.02 L837.45 911.16 L841.54 911.3 L845.62 911.45 L849.7 911.6 L853.78 911.76 L857.87 911.92 L861.95 912.09 L866.03 912.27 L870.11 912.45 L874.19 912.64 L878.28 912.84 L882.36 913.05 L886.44 913.26 L890.52 913.48 L894.61 913.71 L898.69 913.94 L902.77 914.18 L906.85 914.44 L910.94 914.7 L915.02 914.96 L919.1 915.24 L923.18 915.52 L927.27 915.81 L931.35 916.11 L935.43 916.41 L939.51 916.72 L943.6 917.04 L947.68 917.36 L951.76 917.69 L955.84 918.02 L959.93 918.36 L964.01 918.7 L968.09 919.05 L972.17 919.4 L976.26 919.75 L980.34 920.11 L984.42 920.47 L988.5 920.84 L992.59 921.2 L996.67 921.57 L1000.75 921.94 L1004.83 922.31 L1008.92 922.68 L1013 923.06 L1017.08 923.43 L1021.16 923.8 L1025.24 924.18 L1029.33 924.55 L1033.41 924.93 L1037.49 925.3 L1041.57 925.67 L1045.66 926.04 L1049.74 926.42 L1053.82 926.79 L1057.9 927.16 L1061.99 927.53 L1066.07 927.9 L1070.15 928.27 L1074.23 928.64 L1078.32 929.01 L1082.4 929.37 L1086.48 929.74 L1090.56 930.11 L1094.65 930.48 L1098.73 930.84 L1102.81 931.21 L1106.89 931.58 L1110.98 931.94 L1115.06 932.31 L1119.14 932.68 L1123.22 933.04 L1127.31 933.41 L1131.39 933.77 L1135.47 934.14 L1139.55 934.5 L1143.64 934.87 L1147.72 935.23 L1151.8 935.6" fill="none" stroke="#FF0000" stroke-width="8.3" stroke-linejoin="round"/>
</g>
<text class="pl" x="254.4" y="1358.5">(b)</text>
<path d="M1497.85 1468.5V1460.5M1497.85 848V856M1619.8 1468.5V1452.5M1619.8 848V864M1741.75 1468.5V1460.5M1741.75 848V856M1863.7 1468.5V1452.5M1863.7 848V864M1985.65 1468.5V1460.5M1985.65 848V856M2107.6 1468.5V1452.5M2107.6 848V864M2229.55 1468.5V1460.5M2229.55 848V856M1375.9 1424.18H1383.9M2351.5 1424.18H2343.5M1375.9 1379.86H1391.9M2351.5 1379.86H2335.5M1375.9 1335.54H1383.9M2351.5 1335.54H2343.5M1375.9 1291.21H1391.9M2351.5 1291.21H2335.5M1375.9 1246.89H1383.9M2351.5 1246.89H2343.5M1375.9 1202.57H1391.9M2351.5 1202.57H2335.5M1375.9 1158.25H1383.9M2351.5 1158.25H2343.5M1375.9 1113.93H1391.9M2351.5 1113.93H2335.5M1375.9 1069.61H1383.9M2351.5 1069.61H2343.5M1375.9 1025.29H1391.9M2351.5 1025.29H2335.5M1375.9 980.96H1383.9M2351.5 980.96H2343.5M1375.9 936.64H1391.9M2351.5 936.64H2335.5M1375.9 892.32H1383.9M2351.5 892.32H2343.5" stroke="#000" stroke-width="3.0" fill="none"/>
<rect x="1375.9" y="848" width="975.6" height="620.5" stroke="#000" stroke-width="3.3" fill="none"/>
<text class="tk" x="1358.7" y="1485.2" text-anchor="end">0</text>
<text class="tk" x="1358.7" y="1396.56" text-anchor="end">5</text>
<text class="tk" x="1358.7" y="1307.91" text-anchor="end">10</text>
<text class="tk" x="1358.7" y="1219.27" text-anchor="end">15</text>
<text class="tk" x="1358.7" y="1130.63" text-anchor="end">20</text>
<text class="tk" x="1358.7" y="1041.99" text-anchor="end">25</text>
<text class="tk" x="1358.7" y="953.34" text-anchor="end">30</text>
<text class="tk" x="1358.7" y="864.7" text-anchor="end">35</text>
<text class="tk" x="1375.9" y="1527.9" text-anchor="middle">-20</text>
<text class="tk" x="1619.8" y="1527.9" text-anchor="middle">-10</text>
<text class="tk" x="1863.7" y="1527.9" text-anchor="middle">0</text>
<text class="tk" x="2107.6" y="1527.9" text-anchor="middle">10</text>
<text class="tk" x="2351.5" y="1527.9" text-anchor="middle">20</text>
<text class="tt" x="1282.7" y="1158.25" text-anchor="middle" transform="rotate(-90 1282.7 1158.25)">Extinction ratio (dB)</text>
<text class="tt" x="1863.7" y="1574.6" text-anchor="middle">Δ<tspan font-style="italic">k</tspan> (nm)</text>
<g clip-path="url(#clipd)">
<path d="M1375.9 925.7 L1379.98 925.5 L1384.06 925.3 L1388.15 925.1 L1392.23 924.91 L1396.31 924.71 L1400.39 924.51 L1404.47 924.31 L1408.56 924.11 L1412.64 923.92 L1416.72 923.72 L1420.8 923.52 L1424.88 923.32 L1428.97 923.12 L1433.05 922.93 L1437.13 922.73 L1441.21 922.53 L1445.29 922.33 L1449.38 922.13 L1453.46 921.94 L1457.54 921.74 L1461.62 921.54 L1465.7 921.35 L1469.79 921.15 L1473.87 920.95 L1477.95 920.76 L1482.03 920.56 L1486.11 920.36 L1490.2 920.17 L1494.28 919.97 L1498.36 919.78 L1502.44 919.58 L1506.52 919.38 L1510.61 919.19 L1514.69 918.99 L1518.77 918.8 L1522.85 918.61 L1526.93 918.41 L1531.02 918.22 L1535.1 918.03 L1539.18 917.84 L1543.26 917.65 L1547.34 917.46 L1551.43 917.27 L1555.51 917.08 L1559.59 916.89 L1563.67 916.71 L1567.75 916.52 L1571.84 916.34 L1575.92 916.16 L1580 915.98 L1584.08 915.8 L1588.16 915.62 L1592.25 915.45 L1596.33 915.27 L1600.41 915.1 L1604.49 914.93 L1608.57 914.76 L1612.66 914.59 L1616.74 914.42 L1620.82 914.26 L1624.9 914.1 L1628.98 913.94 L1633.07 913.78 L1637.15 913.62 L1641.23 913.47 L1645.31 913.32 L1649.39 913.17 L1653.48 913.02 L1657.56 912.87 L1661.64 912.73 L1665.72 912.59 L1669.8 912.45 L1673.89 912.32 L1677.97 912.18 L1682.05 912.05 L1686.13 911.92 L1690.21 911.79 L1694.3 911.67 L1698.38 911.55 L1702.46 911.43 L1706.54 911.31 L1710.62 911.19 L1714.71 911.08 L1718.79 910.97 L1722.87 910.86 L1726.95 910.76 L1731.03 910.66 L1735.12 910.56 L1739.2 910.46 L1743.28 910.36 L1747.36 910.27 L1751.44 910.18 L1755.53 910.1 L1759.61 910.01 L1763.69 909.93 L1767.77 909.85 L1771.85 909.77 L1775.94 909.7 L1780.02 909.62 L1784.1 909.55 L1788.18 909.48 L1792.26 909.41 L1796.35 909.35 L1800.43 909.28 L1804.51 909.22 L1808.59 909.16 L1812.67 909.09 L1816.76 909.03 L1820.84 908.98 L1824.92 908.92 L1829 908.86 L1833.08 908.8 L1837.17 908.75 L1841.25 908.69 L1845.33 908.64 L1849.41 908.59 L1853.49 908.53 L1857.58 908.48 L1861.66 908.43 L1865.74 908.37 L1869.82 908.32 L1873.91 908.27 L1877.99 908.22 L1882.07 908.16 L1886.15 908.11 L1890.23 908.06 L1894.32 908.01 L1898.4 907.95 L1902.48 907.9 L1906.56 907.85 L1910.64 907.8 L1914.73 907.74 L1918.81 907.69 L1922.89 907.64 L1926.97 907.58 L1931.05 907.53 L1935.14 907.48 L1939.22 907.42 L1943.3 907.37 L1947.38 907.32 L1951.46 907.26 L1955.55 907.21 L1959.63 907.15 L1963.71 907.1 L1967.79 907.04 L1971.87 906.99 L1975.96 906.93 L1980.04 906.88 L1984.12 906.82 L1988.2 906.76 L1992.28 906.71 L1996.37 906.65 L2000.45 906.59 L2004.53 906.54 L2008.61 906.48 L2012.69 906.42 L2016.78 906.37 L2020.86 906.31 L2024.94 906.25 L2029.02 906.2 L2033.1 906.14 L2037.19 906.09 L2041.27 906.03 L2045.35 905.98 L2049.43 905.93 L2053.51 905.88 L2057.6 905.82 L2061.68 905.77 L2065.76 905.72 L2069.84 905.68 L2073.92 905.63 L2078.01 905.58 L2082.09 905.54 L2086.17 905.5 L2090.25 905.46 L2094.33 905.42 L2098.42 905.38 L2102.5 905.34 L2106.58 905.31 L2110.66 905.28 L2114.74 905.24 L2118.83 905.22 L2122.91 905.19 L2126.99 905.16 L2131.07 905.14 L2135.15 905.12 L2139.24 905.1 L2143.32 905.08 L2147.4 905.06 L2151.48 905.05 L2155.56 905.03 L2159.65 905.02 L2163.73 905.01 L2167.81 905 L2171.89 904.99 L2175.97 904.98 L2180.06 904.98 L2184.14 904.97 L2188.22 904.97 L2192.3 904.97 L2196.38 904.97 L2200.47 904.97 L2204.55 904.97 L2208.63 904.97 L2212.71 904.97 L2216.79 904.98 L2220.88 904.98 L2224.96 904.99 L2229.04 905 L2233.12 905.01 L2237.2 905.02 L2241.29 905.03 L2245.37 905.04 L2249.45 905.05 L2253.53 905.06 L2257.61 905.07 L2261.7 905.09 L2265.78 905.1 L2269.86 905.12 L2273.94 905.13 L2278.02 905.15 L2282.11 905.17 L2286.19 905.18 L2290.27 905.2 L2294.35 905.22 L2298.43 905.24 L2302.52 905.26 L2306.6 905.27 L2310.68 905.29 L2314.76 905.31 L2318.84 905.33 L2322.93 905.35 L2327.01 905.37 L2331.09 905.4 L2335.17 905.42 L2339.25 905.44 L2343.34 905.46 L2347.42 905.48 L2351.5 905.5 L2351.5 1468.5 L1375.9 1468.5 Z" fill="url(#gradd)" stroke="none"/>
<path d="M1375.9 925.7 L1379.98 925.5 L1384.06 925.3 L1388.15 925.1 L1392.23 924.91 L1396.31 924.71 L1400.39 924.51 L1404.47 924.31 L1408.56 924.11 L1412.64 923.92 L1416.72 923.72 L1420.8 923.52 L1424.88 923.32 L1428.97 923.12 L1433.05 922.93 L1437.13 922.73 L1441.21 922.53 L1445.29 922.33 L1449.38 922.13 L1453.46 921.94 L1457.54 921.74 L1461.62 921.54 L1465.7 921.35 L1469.79 921.15 L1473.87 920.95 L1477.95 920.76 L1482.03 920.56 L1486.11 920.36 L1490.2 920.17 L1494.28 919.97 L1498.36 919.78 L1502.44 919.58 L1506.52 919.38 L1510.61 919.19 L1514.69 918.99 L1518.77 918.8 L1522.85 918.61 L1526.93 918.41 L1531.02 918.22 L1535.1 918.03 L1539.18 917.84 L1543.26 917.65 L1547.34 917.46 L1551.43 917.27 L1555.51 917.08 L1559.59 916.89 L1563.67 916.71 L1567.75 916.52 L1571.84 916.34 L1575.92 916.16 L1580 915.98 L1584.08 915.8 L1588.16 915.62 L1592.25 915.45 L1596.33 915.27 L1600.41 915.1 L1604.49 914.93 L1608.57 914.76 L1612.66 914.59 L1616.74 914.42 L1620.82 914.26 L1624.9 914.1 L1628.98 913.94 L1633.07 913.78 L1637.15 913.62 L1641.23 913.47 L1645.31 913.32 L1649.39 913.17 L1653.48 913.02 L1657.56 912.87 L1661.64 912.73 L1665.72 912.59 L1669.8 912.45 L1673.89 912.32 L1677.97 912.18 L1682.05 912.05 L1686.13 911.92 L1690.21 911.79 L1694.3 911.67 L1698.38 911.55 L1702.46 911.43 L1706.54 911.31 L1710.62 911.19 L1714.71 911.08 L1718.79 910.97 L1722.87 910.86 L1726.95 910.76 L1731.03 910.66 L1735.12 910.56 L1739.2 910.46 L1743.28 910.36 L1747.36 910.27 L1751.44 910.18 L1755.53 910.1 L1759.61 910.01 L1763.69 909.93 L1767.77 909.85 L1771.85 909.77 L1775.94 909.7 L1780.02 909.62 L1784.1 909.55 L1788.18 909.48 L1792.26 909.41 L1796.35 909.35 L1800.43 909.28 L1804.51 909.22 L1808.59 909.16 L1812.67 909.09 L1816.76 909.03 L1820.84 908.98 L1824.92 908.92 L1829 908.86 L1833.08 908.8 L1837.17 908.75 L1841.25 908.69 L1845.33 908.64 L1849.41 908.59 L1853.49 908.53 L1857.58 908.48 L1861.66 908.43 L1865.74 908.37 L1869.82 908.32 L1873.91 908.27 L1877.99 908.22 L1882.07 908.16 L1886.15 908.11 L1890.23 908.06 L1894.32 908.01 L1898.4 907.95 L1902.48 907.9 L1906.56 907.85 L1910.64 907.8 L1914.73 907.74 L1918.81 907.69 L1922.89 907.64 L1926.97 907.58 L1931.05 907.53 L1935.14 907.48 L1939.22 907.42 L1943.3 907.37 L1947.38 907.32 L1951.46 907.26 L1955.55 907.21 L1959.63 907.15 L1963.71 907.1 L1967.79 907.04 L1971.87 906.99 L1975.96 906.93 L1980.04 906.88 L1984.12 906.82 L1988.2 906.76 L1992.28 906.71 L1996.37 906.65 L2000.45 906.59 L2004.53 906.54 L2008.61 906.48 L2012.69 906.42 L2016.78 906.37 L2020.86 906.31 L2024.94 906.25 L2029.02 906.2 L2033.1 906.14 L2037.19 906.09 L2041.27 906.03 L2045.35 905.98 L2049.43 905.93 L2053.51 905.88 L2057.6 905.82 L2061.68 905.77 L2065.76 905.72 L2069.84 905.68 L2073.92 905.63 L2078.01 905.58 L2082.09 905.54 L2086.17 905.5 L2090.25 905.46 L2094.33 905.42 L2098.42 905.38 L2102.5 905.34 L2106.58 905.31 L2110.66 905.28 L2114.74 905.24 L2118.83 905.22 L2122.91 905.19 L2126.99 905.16 L2131.07 905.14 L2135.15 905.12 L2139.24 905.1 L2143.32 905.08 L2147.4 905.06 L2151.48 905.05 L2155.56 905.03 L2159.65 905.02 L2163.73 905.01 L2167.81 905 L2171.89 904.99 L2175.97 904.98 L2180.06 904.98 L2184.14 904.97 L2188.22 904.97 L2192.3 904.97 L2196.38 904.97 L2200.47 904.97 L2204.55 904.97 L2208.63 904.97 L2212.71 904.97 L2216.79 904.98 L2220.88 904.98 L2224.96 904.99 L2229.04 905 L2233.12 905.01 L2237.2 905.02 L2241.29 905.03 L2245.37 905.04 L2249.45 905.05 L2253.53 905.06 L2257.61 905.07 L2261.7 905.09 L2265.78 905.1 L2269.86 905.12 L2273.94 905.13 L2278.02 905.15 L2282.11 905.17 L2286.19 905.18 L2290.27 905.2 L2294.35 905.22 L2298.43 905.24 L2302.52 905.26 L2306.6 905.27 L2310.68 905.29 L2314.76 905.31 L2318.84 905.33 L2322.93 905.35 L2327.01 905.37 L2331.09 905.4 L2335.17 905.42 L2339.25 905.44 L2343.34 905.46 L2347.42 905.48 L2351.5 905.5" fill="none" stroke="#00A0FF" stroke-width="8.3" stroke-linejoin="round"/>
</g>
<text class="pl" x="1453.6" y="1358.6">(d)</text>
</svg></body></html>
